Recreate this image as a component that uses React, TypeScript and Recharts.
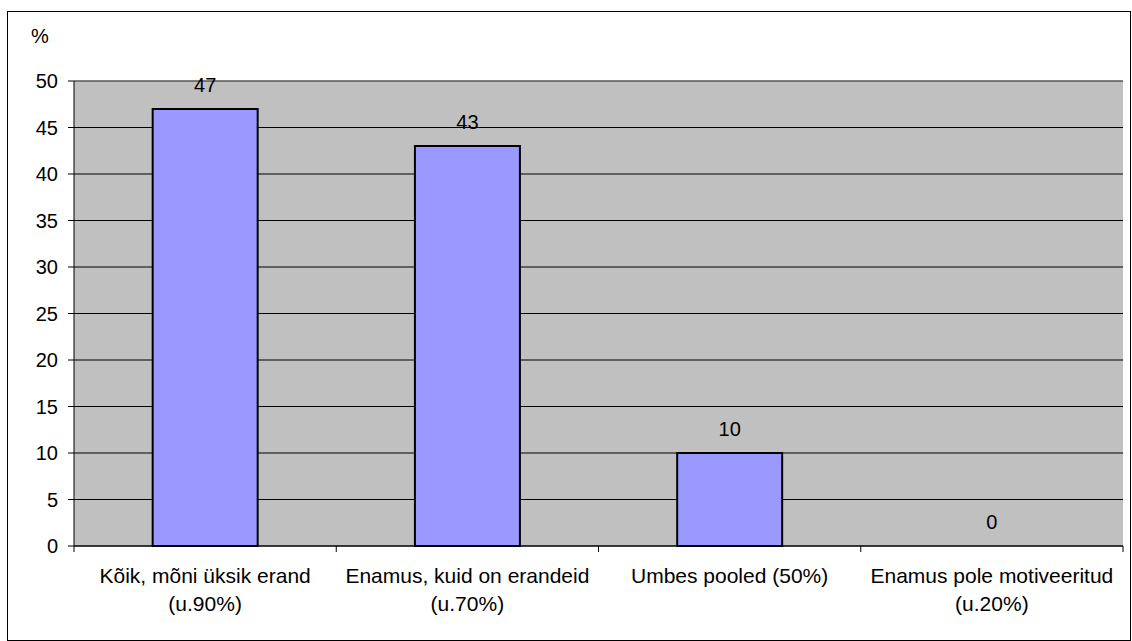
import { Bar, BarChart, CartesianGrid, Cell, LabelList, ReferenceLine, XAxis, YAxis } from "recharts"

const categories = [
  ["Kõik, mõni üksik erand", "(u.90%)"],
  ["Enamus, kuid on erandeid", "(u.70%)"],
  ["Umbes pooled (50%)", ""],
  ["Enamus pole motiveeritud", "(u.20%)"],
]
const values = [47, 43, 10, 0]
const yTicks = [0, 5, 10, 15, 20, 25, 30, 35, 40, 45, 50]

const data = categories.map((c, i) => ({ name: c.join("\n"), value: values[i] }))

const font = "Arial, 'Liberation Sans', sans-serif"
const W = 1132
const H = 641
const plotLeft = 74
const plotRight = 1123
const band = (plotRight - plotLeft) / categories.length

function CategoryTick(props: any) {
  const { x, y, payload, index } = props
  const lines = String(payload.value).split("\n")
  const left = x - band / 2
  return (
    <g>
      <line x1={left} y1={y - 8} x2={left} y2={y - 2} stroke="#000" />
      {index === categories.length - 1 && (
        <line x1={left + band} y1={y - 8} x2={left + band} y2={y - 2} stroke="#000" />
      )}
      <text x={x} y={y + 29} textAnchor="middle" fontSize={21} fontFamily={font} fill="#000">
        {lines.map((l, i) => (
          <tspan key={i} x={x} dy={i === 0 ? 0 : 28}>
            {l}
          </tspan>
        ))}
      </text>
    </g>
  )
}

export default function App() {
  return (
    <div style={{ position: "absolute", left: 0, top: 0, width: W, height: H, background: "#fff" }}>
      <div
        style={{
          position: "absolute",
          left: 7,
          top: 11,
          width: W - 8,
          height: H - 11,
          border: "1px solid #000",
          boxSizing: "border-box",
        }}
      />
      <div
        style={{
          position: "absolute",
          left: 31,
          top: 25,
          fontFamily: font,
          fontSize: 20,
          color: "#000",
        }}
      >
        %
      </div>
      <BarChart
        width={W}
        height={H}
        data={data}
        margin={{ top: 81, right: W - plotRight, bottom: 35, left: 14 }}
        barCategoryGap="30%"
        style={{ position: "absolute", left: 0, top: 0 }}
      >
        <CartesianGrid vertical={false} stroke="#000" fill="#C0C0C0" fillOpacity={1} />
        <XAxis
          dataKey="name"
          height={60}
          tickLine={false}
          axisLine={{ stroke: "#000" }}
          tick={<CategoryTick />}
          interval={0}
        />
        <YAxis
          width={60}
          domain={[0, 50]}
          ticks={yTicks}
          interval={0}
          tickSize={6}
          tickMargin={10}
          axisLine={{ stroke: "#000" }}
          tickLine={{ stroke: "#000" }}
          tick={{ fill: "#000", fontSize: 20, fontFamily: font }}
        />
        <YAxis
          yAxisId="r"
          orientation="right"
          width={0}
          tick={false}
          tickLine={false}
          axisLine={{ stroke: "#808080" }}
        />
        <ReferenceLine y={50} stroke="#808080" />
        <Bar
          dataKey="value"
          fill="#9999FF"
          stroke="#000"
          strokeWidth={2}
          minPointSize={0.01}
          isAnimationActive={false}
        >
          {data.map((d, i) => (
            <Cell key={i} stroke={d.value === 0 ? "none" : "#000"} />
          ))}
          <LabelList dataKey="value" position="top" offset={17} fill="#000" fontSize={20} fontFamily={font} />
        </Bar>
      </BarChart>
    </div>
  )
}
